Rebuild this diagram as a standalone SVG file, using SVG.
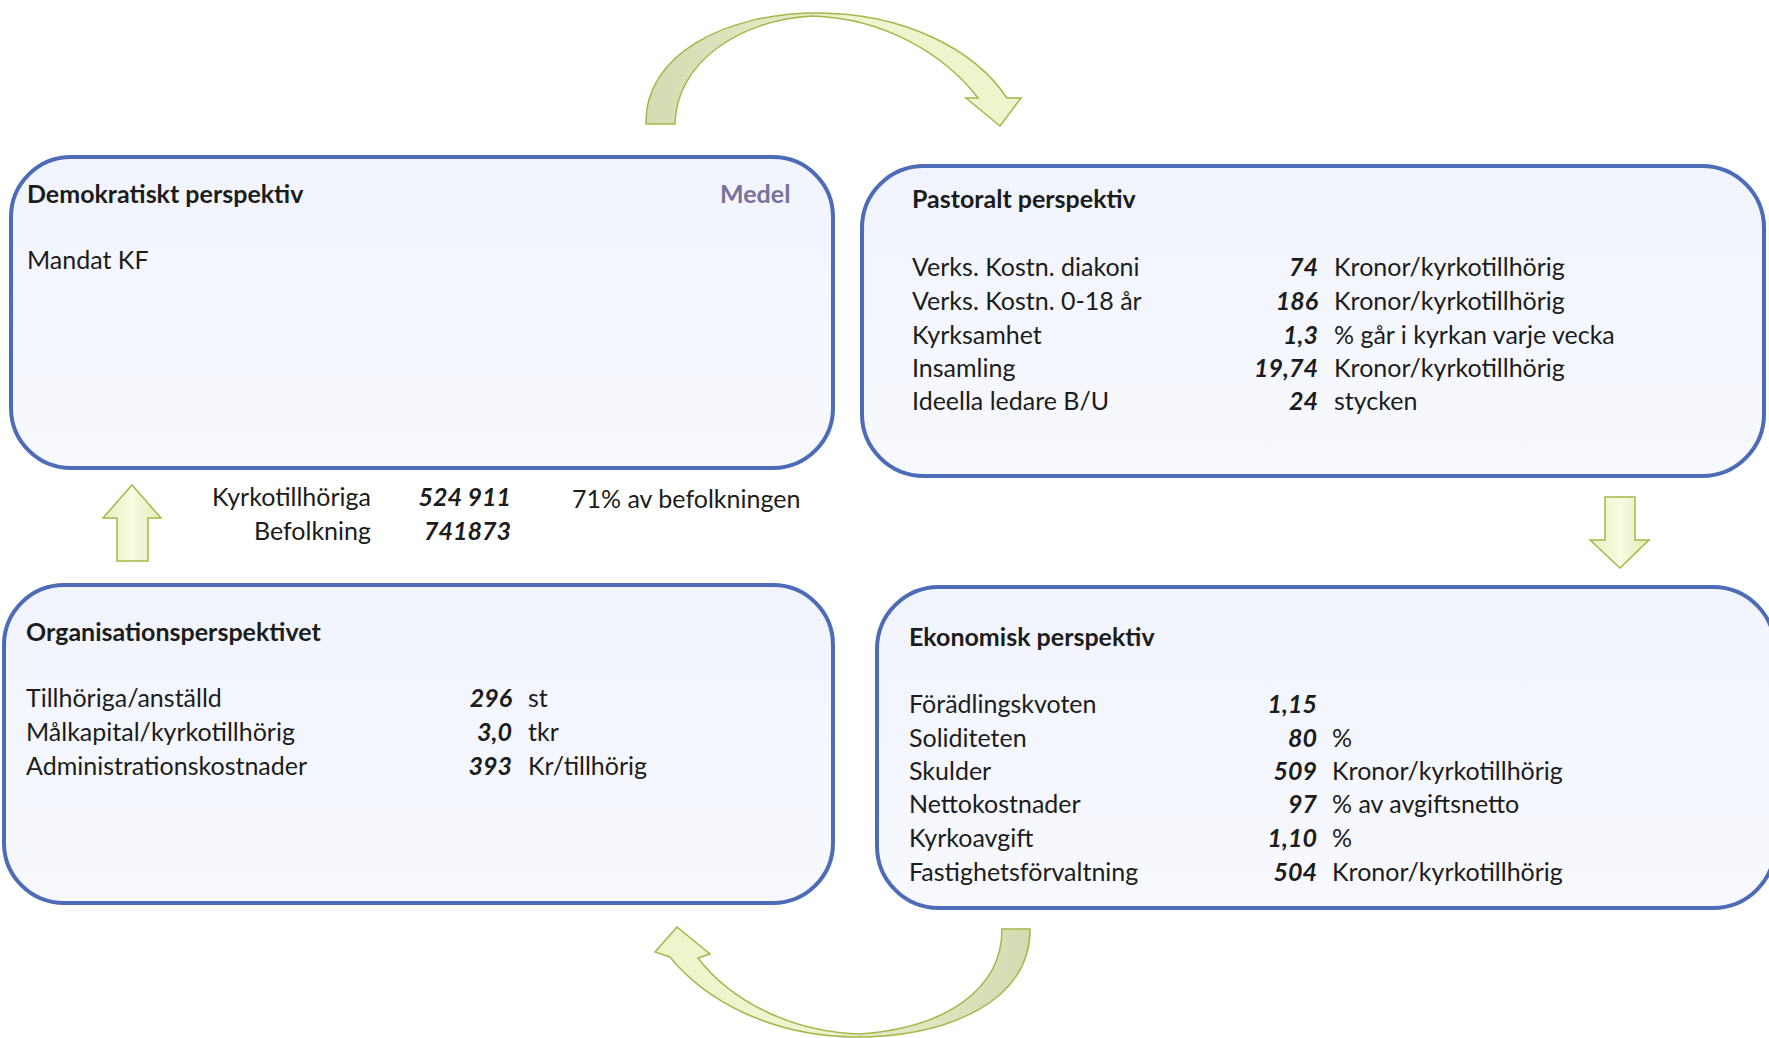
<svg xmlns="http://www.w3.org/2000/svg" width="1769" height="1038" viewBox="0 0 1769 1038">
<defs>
<linearGradient id="boxfill" x1="0" y1="0" x2="0" y2="1"><stop offset="0" stop-color="#f1f4fd"/><stop offset="1" stop-color="#f7f9fe"/></linearGradient>
<linearGradient id="arrowV" x1="0" y1="0" x2="1" y2="0"><stop offset="0" stop-color="#e8f0bd"/><stop offset="0.5" stop-color="#f7fbe2"/><stop offset="1" stop-color="#e3ecb4"/></linearGradient>
<linearGradient id="arcTop" x1="0" y1="0" x2="1" y2="0"><stop offset="0" stop-color="#d4dbb2"/><stop offset="0.4" stop-color="#e4eac6"/><stop offset="0.55" stop-color="#eef4cf"/><stop offset="1" stop-color="#eef5cc"/></linearGradient>
<linearGradient id="arcBot" x1="1" y1="0" x2="0" y2="0"><stop offset="0" stop-color="#d4dbb2"/><stop offset="0.4" stop-color="#e4eac6"/><stop offset="0.55" stop-color="#eef4cf"/><stop offset="1" stop-color="#eef5cc"/></linearGradient>
</defs>
<style>
.box{fill:url(#boxfill);stroke:#4d6cb8;stroke-width:4}
.arr{stroke:#a3b84a;stroke-width:1.5;stroke-linejoin:miter}
text{font-family:Lato,"Liberation Sans",sans-serif;font-size:25px;fill:#1c1c1c}
.h{font-weight:bold}
.n{font-weight:bold;font-style:italic;text-anchor:end}
.r{text-anchor:end}
.medel{fill:#77719b;font-weight:bold}
</style>
<rect width="1769" height="1038" fill="#ffffff"/>

<g id="connectors">
<path class="arr" fill="url(#arcTop)" d="M646,124 C644,55 725,13 817,13 C905,13 975,50 1007,98 L1021,98 L1000,126 L966,98 L978,98 C945,55 885,18 812,16 C740,20 676,62 675,124 Z"/>
<path class="arr" fill="url(#arcBot)" d="M1030,929 C1031,1000 950,1037 855,1037 C770,1036 705,1000 670,957 L655,952 L677,927 L710,954 L698,958 C730,1000 790,1032 860,1034 C945,1028 1002,990 1002,929 Z"/>
<polygon class="arr" fill="url(#arrowV)" points="132,485 161,518 148,518 148,561 117,561 117,518 103,518"/>
<polygon class="arr" fill="url(#arrowV)" points="1605,497 1635,497 1635,540 1649,540 1620,568 1590,540 1605,540"/>
</g>

<g id="demokratiskt">
<rect class="box" x="11" y="157" width="822" height="311" rx="60"/>
<text class="h" x="27" y="203">Demokratiskt perspektiv</text>
<text class="medel" x="720" y="203">Medel</text>
<text x="27" y="269">Mandat KF</text>
</g>

<g id="pastoralt">
<rect class="box" x="862" y="166" width="902" height="310" rx="62"/>
<text class="h" x="912" y="208">Pastoralt perspektiv</text>
<text x="912" y="276">Verks. Kostn. diakoni</text>
<text class="n" x="1318" y="276">74</text>
<text x="1334" y="276">Kronor/kyrkotillhörig</text>
<text x="912" y="310">Verks. Kostn. 0-18 år</text>
<text class="n" x="1318" y="310">186</text>
<text x="1334" y="310">Kronor/kyrkotillhörig</text>
<text x="912" y="344">Kyrksamhet</text>
<text class="n" x="1318" y="344">1,3</text>
<text x="1334" y="344">% går i kyrkan varje vecka</text>
<text x="912" y="377">Insamling</text>
<text class="n" x="1318" y="377">19,74</text>
<text x="1334" y="377">Kronor/kyrkotillhörig</text>
<text x="912" y="410">Ideella ledare B/U</text>
<text class="n" x="1318" y="410">24</text>
<text x="1334" y="410">stycken</text>
</g>

<g id="mitt">
<text class="r" x="371" y="506">Kyrkotillhöriga</text>
<text class="n" x="511" y="506">524 911</text>
<text x="572" y="508">71% av befolkningen</text>
<text class="r" x="371" y="540">Befolkning</text>
<text class="n" x="511" y="540">741873</text>
</g>

<g id="organisation">
<rect class="box" x="4" y="585" width="829" height="318" rx="60"/>
<text class="h" x="26" y="641">Organisationsperspektivet</text>
<text x="26" y="707">Tillhöriga/anställd</text>
<text class="n" x="512" y="707">296</text>
<text x="528" y="707">st</text>
<text x="26" y="741">Målkapital/kyrkotillhörig</text>
<text class="n" x="512" y="741">3,0</text>
<text x="528" y="741">tkr</text>
<text x="26" y="775">Administrationskostnader</text>
<text class="n" x="512" y="775">393</text>
<text x="528" y="775">Kr/tillhörig</text>
</g>

<g id="ekonomisk">
<rect class="box" x="877" y="587" width="898" height="321" rx="62"/>
<text class="h" x="909" y="646">Ekonomisk perspektiv</text>
<text x="909" y="713">Förädlingskvoten</text>
<text class="n" x="1317" y="713">1,15</text>
<text x="909" y="747">Soliditeten</text>
<text class="n" x="1317" y="747">80</text>
<text x="1332" y="747">%</text>
<text x="909" y="780">Skulder</text>
<text class="n" x="1317" y="780">509</text>
<text x="1332" y="780">Kronor/kyrkotillhörig</text>
<text x="909" y="813">Nettokostnader</text>
<text class="n" x="1317" y="813">97</text>
<text x="1332" y="813">% av avgiftsnetto</text>
<text x="909" y="847">Kyrkoavgift</text>
<text class="n" x="1317" y="847">1,10</text>
<text x="1332" y="847">%</text>
<text x="909" y="881">Fastighetsförvaltning</text>
<text class="n" x="1317" y="881">504</text>
<text x="1332" y="881">Kronor/kyrkotillhörig</text>
</g>
</svg>
